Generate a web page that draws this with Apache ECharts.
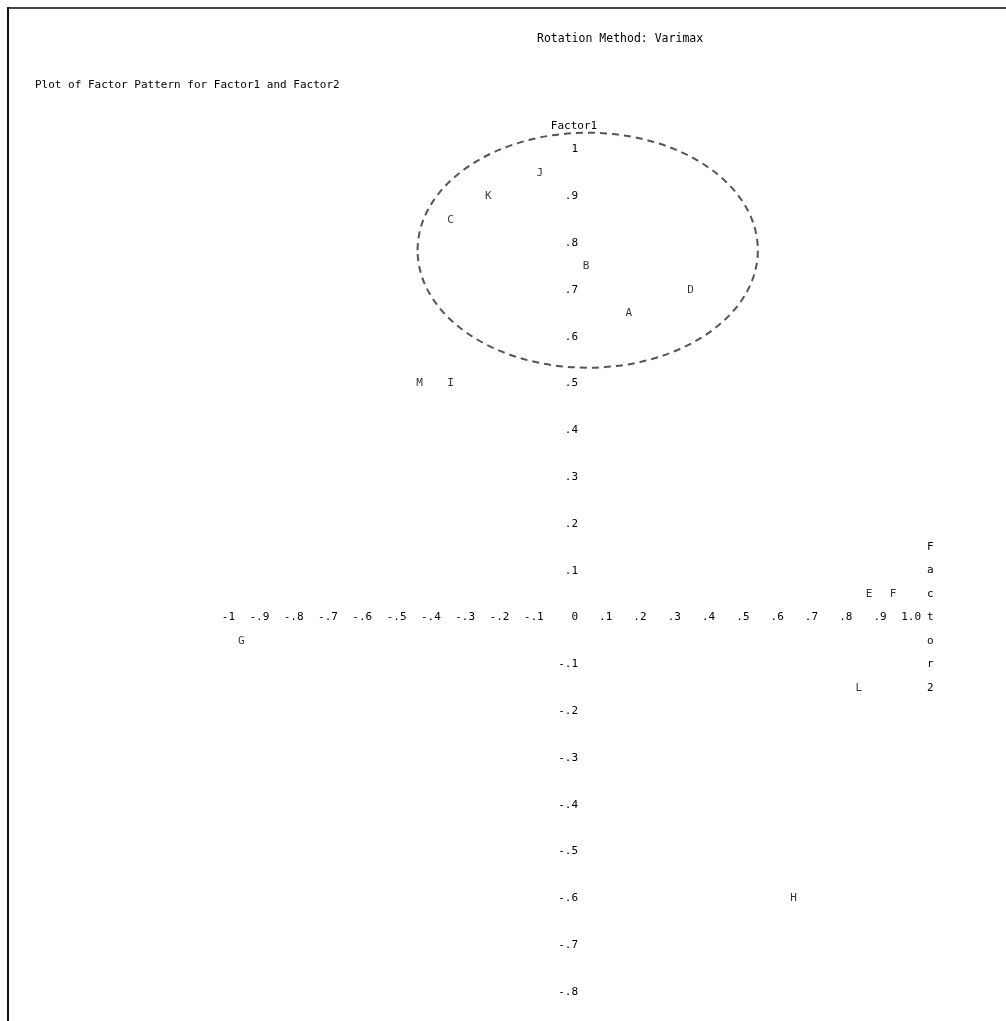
<!DOCTYPE html>
<html>
<head>
<meta charset="utf-8">
<script src="https://cdn.jsdelivr.net/npm/echarts@6/dist/echarts.min.js"></script>
<style>
  html, body { margin: 0; padding: 0; background: #fff; }
  #chart { width: 1006px; height: 1021px; }
</style>
</head>
<body>
<div id="chart"></div>
<script>
// variable names and their loadings (x = Factor2, y = Factor1)
const pointNames = ['A', 'B', 'C', 'D', 'E', 'F', 'G', 'H', 'I', 'J', 'K', 'L', 'M'];
const factor2 = [0.16, 0.035, -0.36, 0.34, 0.86, 0.93, -0.97, 0.64, -0.36, -0.10, -0.25, 0.83, -0.45];
const factor1 = [0.65, 0.75, 0.85, 0.70, 0.05, 0.05, -0.05, -0.60, 0.50, 0.95, 0.90, -0.15, 0.50];

// tick labels, printer style
const xTickLabels = ['-1', '-.9', '-.8', '-.7', '-.6', '-.5', '-.4', '-.3', '-.2', '-.1', '0',
  '.1', '.2', '.3', '.4', '.5', '.6', '.7', '.8', '.9', '1.0'];
const yTickLabels = ['-.8', '-.7', '-.6', '-.5', '-.4', '-.3', '-.2', '-.1', '',
  '.1', '.2', '.3', '.4', '.5', '.6', '.7', '.8', '.9', '1'];

// dashed ellipse around the Factor1 cluster: center and radii in data units
const ellipseCenter = [0.04, 0.785];
const ellipseRadius = [0.496, 0.251];

const FONT = '"DejaVu Sans Mono", monospace';

const pointData = pointNames.map((n, i) => [factor2[i], factor1[i], n]);

const hiddenLine = { show: false, onZero: false };

const chart = echarts.init(document.getElementById('chart'));

const option = {
  animation: false,
  backgroundColor: '#fff',
  textStyle: { fontFamily: FONT, color: '#000' },
  graphic: [
    { type: 'line', shape: { x1: 7, y1: 8, x2: 1006, y2: 8 }, style: { stroke: '#444', lineWidth: 2 } },
    { type: 'line', shape: { x1: 8, y1: 7, x2: 8, y2: 1021 }, style: { stroke: '#111', lineWidth: 2 } },
    {
      type: 'text', left: 537, top: 33,
      style: { text: 'Rotation Method: Varimax', font: '11.5px ' + FONT, fill: '#000' }
    },
    {
      type: 'text', left: 35, top: 80,
      style: { text: 'Plot of Factor Pattern for Factor1 and Factor2', font: '11px ' + FONT, fill: '#000' }
    }
  ],
  grid: { left: 231, right: 89, top: 149.6, bottom: 29, containLabel: false, outerBoundsMode: 'none' },
  xAxis: {
    type: 'value',
    min: -1, max: 1, interval: 0.1,
    name: 'F\na\nc\nt\no\nr\n2',
    nameLocation: 'end',
    nameGap: 4,
    nameTextStyle: {
      fontFamily: FONT, fontSize: 11, color: '#000', lineHeight: 23.5,
      align: 'left', verticalAlign: 'middle', padding: [0, 0, 0, -5]
    },
    axisLine: hiddenLine,
    axisTick: { show: false },
    splitLine: { show: false },
    axisLabel: {
      interval: 0,
      margin: 0,
      fontSize: 11,
      color: '#000',
      align: 'right',
      verticalAlign: 'middle',
      padding: [0, -4, 0, 0],
      showMinLabel: true,
      showMaxLabel: true,
      formatter: v => xTickLabels[Math.round((v + 1) * 10)] || ''
    }
  },
  yAxis: {
    type: 'value',
    min: -0.8, max: 1, interval: 0.1,
    name: 'Factor1',
    nameLocation: 'end',
    nameGap: 23,
    nameTextStyle: { fontFamily: FONT, fontSize: 11, color: '#000', verticalAlign: 'middle', align: 'center' },
    axisLine: hiddenLine,
    axisTick: { show: false },
    splitLine: { show: false },
    axisLabel: {
      interval: 0,
      margin: -4,
      fontSize: 11,
      color: '#000',
      align: 'right',
      showMinLabel: true,
      showMaxLabel: true,
      formatter: v => yTickLabels[Math.round((v + 0.8) * 10)] || ''
    }
  },
  series: [
    {
      type: 'custom',
      silent: true,
      data: [[ellipseCenter[0], ellipseCenter[1], ellipseRadius[0], ellipseRadius[1]]],
      renderItem: function (params, api) {
        const c = api.coord([api.value(0), api.value(1)]);
        const s = api.size([api.value(2), api.value(3)]);
        return {
          type: 'ellipse',
          shape: { cx: c[0], cy: c[1], rx: s[0], ry: s[1] },
          style: { fill: 'none', stroke: '#555', lineWidth: 2, lineDash: [7, 5] }
        };
      },
      z: 1
    },
    {
      type: 'scatter',
      data: pointData,
      symbolSize: 1,
      itemStyle: { color: 'rgba(0,0,0,0)' },
      label: {
        show: true,
        position: 'inside',
        fontFamily: FONT,
        fontSize: 11,
        color: '#000',
        formatter: p => p.value[2]
      },
      z: 2
    }
  ]
};

chart.setOption(option);

// move both axes so they cross at the origin, like the printer plot
const zero = chart.convertToPixel({ gridIndex: 0 }, [0, 0]);
const corner = chart.convertToPixel({ gridIndex: 0 }, [-1, -0.8]);
chart.setOption({
  xAxis: { offset: zero[1] - corner[1] },
  yAxis: { offset: corner[0] - zero[0] }
});
</script>
</body>
</html>
